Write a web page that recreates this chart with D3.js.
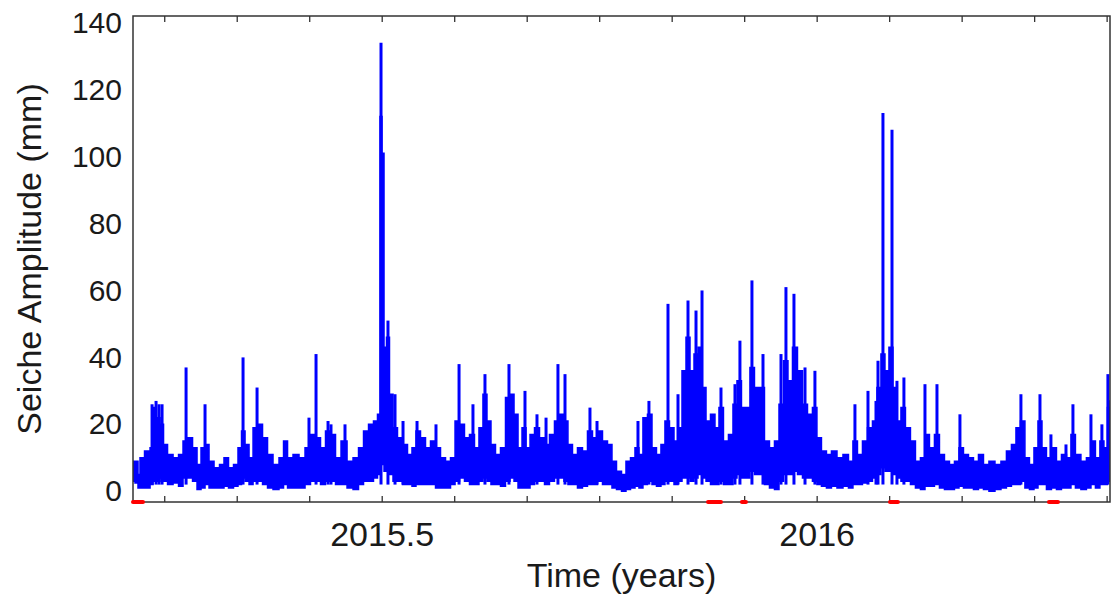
<!DOCTYPE html>
<html>
<head>
<meta charset="utf-8">
<script src="https://cdn.jsdelivr.net/npm/d3@7/dist/d3.min.js"></script>
<style>
  body { margin: 0; background: #fff; }
  svg text { font-family: "Liberation Sans", Arial, sans-serif; fill: #1a1a1a; }
</style>
</head>
<body>
<svg id="chart" width="1111" height="599"></svg>
<script>
// dense body of the seiche record: time (years), upper / lower envelope (mm)
var bodyT = [2015.2141, 2015.2187, 2015.2210, 2015.2233, 2015.2314, 2015.2360, 2015.2383, 2015.2429, 2015.2475, 2015.2509,
  2015.2567, 2015.2636, 2015.2693, 2015.2739, 2015.2797, 2015.2854, 2015.2900, 2015.2946, 2015.2992, 2015.3038,
  2015.3107, 2015.3164, 2015.3210, 2015.3268, 2015.3325, 2015.3371, 2015.3406, 2015.3452, 2015.3498, 2015.3544,
  2015.3601, 2015.3659, 2015.3716, 2015.3785, 2015.3854, 2015.3889, 2015.3946, 2015.4015, 2015.4084, 2015.4153,
  2015.4210, 2015.4268, 2015.4325, 2015.4383, 2015.4440, 2015.4498, 2015.4567, 2015.4636, 2015.4705, 2015.4762,
  2015.4820, 2015.4877, 2015.4934, 2015.4969, 2015.4992, 2015.5015, 2015.5038, 2015.5072, 2015.5107, 2015.5153,
  2015.5210, 2015.5268, 2015.5325, 2015.5371, 2015.5417, 2015.5475, 2015.5532, 2015.5590, 2015.5647, 2015.5705,
  2015.5762, 2015.5820, 2015.5866, 2015.5923, 2015.5980, 2015.6038, 2015.6095, 2015.6141, 2015.6187, 2015.6233,
  2015.6279, 2015.6337, 2015.6394, 2015.6452, 2015.6498, 2015.6544, 2015.6590, 2015.6636, 2015.6682, 2015.6728,
  2015.6785, 2015.6843, 2015.6900, 2015.6957, 2015.7015, 2015.7072, 2015.7118, 2015.7164, 2015.7222, 2015.7279,
  2015.7337, 2015.7394, 2015.7452, 2015.7509, 2015.7567, 2015.7624, 2015.7670, 2015.7728, 2015.7785, 2015.7831,
  2015.7889, 2015.7934, 2015.7980, 2015.8026, 2015.8084, 2015.8130, 2015.8187, 2015.8233, 2015.8279, 2015.8337,
  2015.8383, 2015.8429, 2015.8475, 2015.8521, 2015.8567, 2015.8613, 2015.8659, 2015.8705, 2015.8751, 2015.8808,
  2015.8854, 2015.8900, 2015.8957, 2015.9015, 2015.9061, 2015.9107, 2015.9164, 2015.9210, 2015.9256, 2015.9314,
  2015.9371, 2015.9429, 2015.9486, 2015.9544, 2015.9590, 2015.9647, 2015.9693, 2015.9751, 2015.9808, 2015.9866,
  2015.9923, 2015.9980, 2016.0026, 2016.0084, 2016.0141, 2016.0199, 2016.0268, 2016.0337, 2016.0394, 2016.0440,
  2016.0498, 2016.0555, 2016.0613, 2016.0670, 2016.0716, 2016.0762, 2016.0808, 2016.0854, 2016.0900, 2016.0946,
  2016.0992, 2016.1049, 2016.1107, 2016.1164, 2016.1222, 2016.1268, 2016.1325, 2016.1383, 2016.1440, 2016.1498,
  2016.1555, 2016.1613, 2016.1659, 2016.1716, 2016.1774, 2016.1831, 2016.1889, 2016.1946, 2016.2015, 2016.2084,
  2016.2153, 2016.2210, 2016.2268, 2016.2314, 2016.2371, 2016.2417, 2016.2475, 2016.2521, 2016.2567, 2016.2613,
  2016.2670, 2016.2728, 2016.2785, 2016.2843, 2016.2900, 2016.2946, 2016.3003, 2016.3072, 2016.3130, 2016.3176,
  2016.3233, 2016.3279, 2016.3325, 2016.3360, 2016.3383];

var bodyHi = [9, 9, 5, 10, 12, 13, 25, 22, 20, 14,
  11, 10, 11, 15, 16, 13, 8, 13, 14, 9,
  7, 8, 10, 7, 8, 13, 18, 14, 10, 19,
  20, 16, 11, 8, 10, 15, 10, 11, 10, 13,
  17, 16, 13, 18, 17, 10, 15, 9, 10, 13,
  18, 20, 21, 23, 112, 101, 43, 46, 29, 19,
  16, 14, 11, 13, 18, 16, 13, 15, 13, 10,
  9, 10, 21, 20, 16, 17, 13, 19, 29, 21,
  14, 11, 13, 28, 29, 23, 13, 19, 13, 17,
  19, 16, 14, 17, 21, 23, 21, 14, 11, 13,
  12, 18, 16, 18, 15, 14, 9, 6, 5, 9,
  10, 13, 11, 22, 23, 13, 11, 14, 21, 19,
  15, 19, 36, 46, 36, 41, 43, 31, 21, 23,
  19, 25, 15, 17, 26, 33, 25, 25, 37, 31,
  31, 15, 13, 15, 26, 39, 33, 43, 36, 26,
  23, 25, 16, 12, 11, 12, 10, 11, 9, 15,
  11, 15, 19, 21, 31, 41, 36, 43, 31, 21,
  25, 19, 15, 9, 10, 17, 13, 17, 11, 9,
  8, 9, 13, 11, 10, 9, 11, 8, 9, 8,
  9, 12, 14, 19, 21, 10, 8, 13, 21, 13,
  10, 13, 9, 11, 10, 17, 11, 9, 10, 15,
  10, 15, 13, 25, 27];

var bodyLo = [3, 2.5, 1, 1, 1, 2, 3, 3, 4, 3,
  2, 2.5, 1.5, 4, 4, 3, 0.5, 1, 2, 1,
  1, 1, 1.5, 1, 1.5, 2, 4, 3, 2, 3,
  3, 2, 1, 0.5, 1, 2, 1, 1, 1, 2,
  3, 3, 2, 3, 3, 2, 2, 1, 0.5, 2,
  3, 3, 4, 5, 9, 8, 6, 7, 5, 3,
  3, 2, 2, 1.5, 2, 2, 2, 2, 1, 1,
  1, 2, 3, 4, 3, 2, 2, 3, 4, 3,
  2, 2, 1.5, 3, 4, 3, 1, 1, 1, 2,
  3, 3, 2, 3, 4, 4, 3, 2, 2, 1,
  1.5, 2, 2, 3, 2, 2, 1, 0.5, 0, 0.5,
  1, 1.5, 1, 2, 3, 2, 1.5, 2, 3, 3,
  2, 3, 4, 4, 3, 4, 5, 4, 3, 2,
  2, 3, 2, 2, 4, 5, 4, 4, 6, 5,
  5, 2, 1, 0.5, 3, 5, 5, 6, 5, 4,
  4, 3, 2, 1.5, 1, 1.5, 1, 1.5, 1, 2,
  2, 2.5, 3, 4, 5, 7, 6, 6, 5, 4,
  3, 3, 2, 1, 0.5, 1.5, 1.5, 2, 1, 0.5,
  0.5, 1, 1.5, 1, 1, 0.5, 1, 0.5, 0, 0.5,
  1, 1.5, 2, 2, 3, 1, 0.5, 1, 2, 2,
  0.5, 1, 0.5, 1, 1, 2, 1, 0.5, 1, 2,
  1, 2, 2, 3, 3];

// narrow events standing above the body
var spikeT = [2015.2360, 2015.2406, 2015.2440, 2015.2475, 2015.2751, 2015.2969, 2015.3406, 2015.3567, 2015.4164, 2015.4245,
  2015.4383, 2015.4417, 2015.4578, 2015.4992, 2015.5072, 2015.5153, 2015.5245, 2015.5406, 2015.5624, 2015.5889,
  2015.6049, 2015.6187, 2015.6463, 2015.6647, 2015.6785, 2015.6889, 2015.7026, 2015.7107, 2015.7394, 2015.7475,
  2015.7946, 2015.8072, 2015.8291, 2015.8406, 2015.8521, 2015.8613, 2015.8682, 2015.8900, 2015.9061, 2015.9118,
  2015.9256, 2015.9383, 2015.9590, 2015.9647, 2015.9739, 2015.9866, 2015.9980, 2016.0440, 2016.0590, 2016.0682,
  2016.0705, 2016.0762, 2016.0866, 2016.0923, 2016.1003, 2016.1245, 2016.1383, 2016.1647, 2016.2348, 2016.2567,
  2016.2693, 2016.2866, 2016.2946, 2016.3153, 2016.3279, 2016.3348];
var spikeV = [26, 27, 26, 26, 37, 26, 40, 31, 22, 41,
  21, 20, 20, 134, 51, 29, 21, 21, 20, 38,
  26, 35, 38, 30, 23, 22, 38, 35, 25, 21,
  21, 27, 56, 29, 57, 54, 60, 31, 32, 45,
  63, 41, 41, 61, 59, 37, 36, 26, 30, 27,
  39, 113, 108, 33, 34, 32, 32, 23, 29, 29,
  17, 14, 26, 23, 20, 35];

// red flags along the time axis (start, end in years)
var flagStart = [2015.2141, 2015.8751, 2015.9141, 2016.0843, 2016.2670];
var flagEnd   = [2015.2256, 2015.8900, 2015.9187, 2016.0934, 2016.2774];

var monthTicks = [3, 4, 5, 6, 7, 8, 9, 10, 11, 12, 13, 14, 15, 16]; // months after Jan 2015
var xLabelTicks = [2015.5, 2016];
var yTicks = [0, 20, 40, 60, 80, 100, 120, 140];

var margin = {left: 133, right: 1110, top: 16, bottom: 502};
var svg = d3.select("#chart");

var x = d3.scaleLinear().domain([2015.2141, 2016.3372]).range([margin.left, margin.right]);
var y = d3.scaleLinear().domain([-3.2, 142]).range([margin.bottom, margin.top]);

svg.append("clipPath").attr("id", "plotclip")
  .append("rect")
  .attr("x", margin.left).attr("y", margin.top)
  .attr("width", margin.right - margin.left)
  .attr("height", margin.bottom - margin.top);

var plot = svg.append("g").attr("clip-path", "url(#plotclip)");

var body = bodyT.map(function(t, i){
  return {t: t, hi: bodyHi[i], lo: bodyLo[i]};
});

// step curve gives the columnar look of a dense hourly record
var area = d3.area()
  .curve(d3.curveStep)
  .x(function(d){ return x(d.t); })
  .y0(function(d){ return y(d.lo); })
  .y1(function(d){ return y(d.hi); });

plot.append("path")
  .datum(body)
  .attr("d", area)
  .attr("fill", "#0000ff")
  .attr("stroke", "#0000ff")
  .attr("stroke-width", 1.5);

var spikes = spikeT.map(function(t, i){ return {t: t, v: spikeV[i]}; });

plot.selectAll("line.spike")
  .data(spikes)
  .enter()
  .append("line")
  .attr("class", "spike")
  .attr("x1", function(d){ return x(d.t); })
  .attr("x2", function(d){ return x(d.t); })
  .attr("y1", y(2))
  .attr("y2", function(d){ return y(d.v); })
  .attr("stroke", "#0000ff")
  .attr("stroke-width", 3);

// axes: monthly ticks inside the box, labels only on half years
var fmt = function(d){
  return xLabelTicks.indexOf(d) >= 0 ? (d === 2016 ? "2016" : "2015.5") : "";
};
var monthVals = monthTicks.map(function(m){ return 2015 + m / 12; });

var xb = svg.append("g")
  .attr("transform", "translate(0," + margin.bottom + ")")
  .call(d3.axisBottom(x).tickValues(monthVals).tickSize(-6).tickSizeOuter(0).tickPadding(20).tickFormat(fmt));
xb.select(".domain").remove();
xb.selectAll("line").attr("stroke", "#333").attr("stroke-width", 1.3);
xb.selectAll("text").attr("font-size", 34).attr("fill", "#1a1a1a");

var xt = svg.append("g")
  .attr("transform", "translate(0," + margin.top + ")")
  .call(d3.axisTop(x).tickValues(monthVals).tickSize(-6).tickSizeOuter(0).tickFormat(""));
xt.select(".domain").remove();
xt.selectAll("line").attr("stroke", "#333").attr("stroke-width", 1.3);

var ya = svg.append("g")
  .attr("transform", "translate(" + margin.left + ",0)")
  .call(d3.axisLeft(y).tickValues(yTicks).tickSize(0).tickPadding(11));
ya.select(".domain").remove();
ya.selectAll("text").attr("font-size", 30).attr("fill", "#1a1a1a");

svg.append("rect")
  .attr("x", margin.left).attr("y", margin.top)
  .attr("width", margin.right - margin.left)
  .attr("height", margin.bottom - margin.top)
  .attr("fill", "none")
  .attr("stroke", "#333")
  .attr("stroke-width", 1.5);

svg.selectAll("line.flag")
  .data(flagStart)
  .enter()
  .append("line")
  .attr("class", "flag")
  .attr("x1", function(d){ return x(d); })
  .attr("x2", function(d, i){ return x(flagEnd[i]); })
  .attr("y1", margin.bottom)
  .attr("y2", margin.bottom)
  .attr("stroke", "#ff0000")
  .attr("stroke-width", 4)
  .attr("stroke-linecap", "round");

svg.append("text")
  .attr("x", (margin.left + margin.right) / 2)
  .attr("y", 587)
  .attr("text-anchor", "middle")
  .attr("font-size", 34)
  .text("Time (years)");

svg.append("text")
  .attr("transform", "translate(41," + (margin.top + margin.bottom) / 2 + ") rotate(-90)")
  .attr("text-anchor", "middle")
  .attr("font-size", 34)
  .text("Seiche Amplitude (mm)");
</script>
</body>
</html>
